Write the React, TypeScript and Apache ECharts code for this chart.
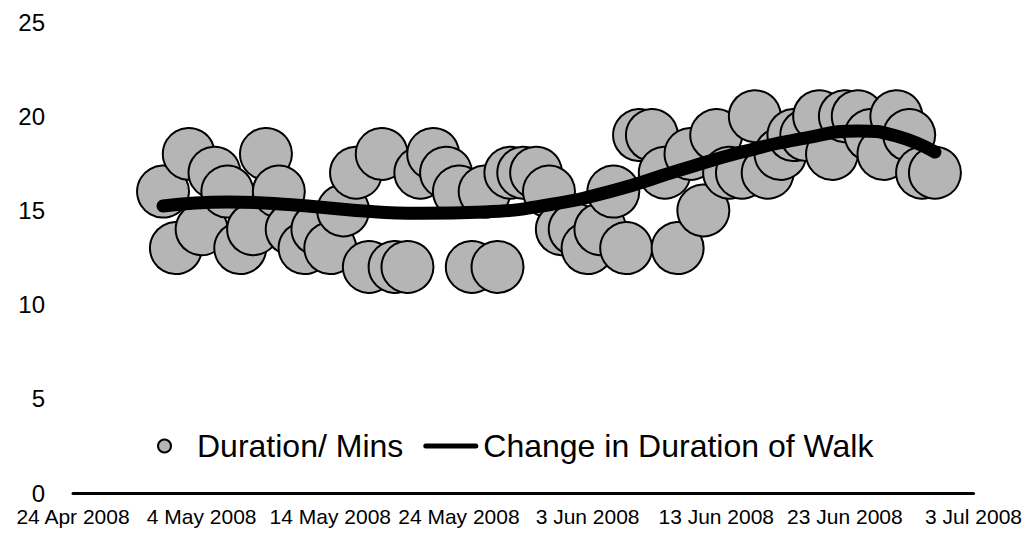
import React, { useEffect, useRef } from "react";
import * as echarts from "echarts";

const AXIS_START = "2008-04-24";
const AXIS_END = "2008-07-03";
const TICK_DAYS = 10;
const Y_TICKS = [0, 5, 10, 15, 20, 25];
const MONTHS = ["Jan", "Feb", "Mar", "Apr", "May", "Jun", "Jul", "Aug", "Sep", "Oct", "Nov", "Dec"];

const walkDates = [
  "2008-05-01", "2008-05-02", "2008-05-03", "2008-05-04", "2008-05-05", "2008-05-06", "2008-05-07",
  "2008-05-08", "2008-05-09", "2008-05-10", "2008-05-11", "2008-05-12", "2008-05-13", "2008-05-14",
  "2008-05-15", "2008-05-16", "2008-05-17", "2008-05-18", "2008-05-19", "2008-05-20", "2008-05-21",
  "2008-05-22", "2008-05-23", "2008-05-24", "2008-05-25", "2008-05-26", "2008-05-27", "2008-05-28",
  "2008-05-29", "2008-05-30", "2008-05-31", "2008-06-01", "2008-06-02", "2008-06-03", "2008-06-04",
  "2008-06-05", "2008-06-06", "2008-06-07", "2008-06-08", "2008-06-09", "2008-06-10", "2008-06-11",
  "2008-06-12", "2008-06-13", "2008-06-14", "2008-06-15", "2008-06-16", "2008-06-17", "2008-06-18",
  "2008-06-19", "2008-06-20", "2008-06-21", "2008-06-22", "2008-06-23", "2008-06-24", "2008-06-25",
  "2008-06-26", "2008-06-27", "2008-06-28", "2008-06-29", "2008-06-30",
];
const durationMins = [
  16, 13, 18, 14, 17, 16, 13,
  14, 18, 16, 14, 13, 14, 13,
  15, 17, 12, 18, 12, 12, 17,
  18, 17, 16, 12, 16, 12, 17,
  17, 17, 16, 14, 14, 13, 14,
  16, 13, 19, 19, 17, 13, 18,
  15, 19, 17, 17, 20, 17, 18,
  19, 19, 20, 18, 20, 20, 19,
  18, 20, 19, 17, 17,
];

const trendDates = [
  "2008-05-01", "2008-05-06", "2008-05-11", "2008-05-16", "2008-05-21", "2008-05-26",
  "2008-05-31", "2008-06-05", "2008-06-10", "2008-06-15", "2008-06-20", "2008-06-24",
  "2008-06-27", "2008-06-30",
];
const trendValues = [15.23, 15.45, 15.3, 15.0, 14.85, 14.92, 15.3, 16.05, 17.1, 18.1, 18.85, 19.22, 18.95, 18.1];

const DAY_MS = 86400000;
const baseMs = Date.parse(AXIS_START + "T00:00:00Z");
const toDay = (s: string) => (Date.parse(s + "T00:00:00Z") - baseMs) / DAY_MS;
const fmtDay = (v: number) => {
  const d = new Date(baseMs + Math.round(v) * DAY_MS);
  return `${d.getUTCDate()} ${MONTHS[d.getUTCMonth()]} ${d.getUTCFullYear()}`;
};

const FONT = "'Liberation Sans', Arial, Helvetica, sans-serif";

export default function App() {
  const ref = useRef<HTMLDivElement>(null);
  useEffect(() => {
    document.body.style.margin = "0";
    const chart = echarts.init(ref.current!, null, { renderer: "svg" });
    const scatterData = walkDates.map((d, i) => [toDay(d), durationMins[i]]);
    const lineData = trendDates.map((d, i) => [toDay(d), trendValues[i]]);
    chart.setOption({
      animation: false,
      backgroundColor: "#ffffff",
      textStyle: { fontFamily: FONT },
      grid: { left: 73, right: 48, top: 22, bottom: 49, containLabel: false },
      legend: {
        left: 152,
        top: 425,
        padding: 5,
        itemWidth: 55,
        itemHeight: 13,
        itemGap: 20,
        textStyle: { fontSize: 32, color: "#000", fontFamily: FONT },
        data: [
          { name: "Duration/ Mins" },
          {
            name: "Change in Duration of Walk",
            icon: "path://M2.5,0 L52.5,0 A2.5,2.5 0 0 1 52.5,5 L2.5,5 A2.5,2.5 0 0 1 2.5,0 Z",
            itemStyle: { color: "#000" },
          },
        ],
      },
      xAxis: {
        type: "value",
        min: 0,
        max: toDay(AXIS_END),
        interval: TICK_DAYS,
        axisLine: { show: true, lineStyle: { color: "#000", width: 3 } },
        axisTick: { show: false },
        splitLine: { show: false },
        axisLabel: {
          show: true,
          color: "#000",
          fontSize: 21,
          lineHeight: 20,
          margin: 13,
          fontFamily: FONT,
          showMinLabel: true,
          showMaxLabel: true,
          hideOverlap: false,
          formatter: (v: number) => fmtDay(v),
        },
      },
      yAxis: {
        type: "value",
        min: Y_TICKS[0],
        max: Y_TICKS[Y_TICKS.length - 1],
        interval: Y_TICKS[1] - Y_TICKS[0],
        axisLine: { show: false },
        axisTick: { show: false },
        splitLine: { show: false },
        axisLabel: { color: "#000", fontSize: 24, lineHeight: 19, margin: 28, fontFamily: FONT },
      },
      series: [
        {
          name: "Duration/ Mins",
          type: "scatter",
          symbol: "circle",
          symbolSize: 52,
          data: scatterData,
          itemStyle: { color: "#b5b5b5", borderColor: "#000", borderWidth: 2, opacity: 1 },
          z: 2,
        },
        {
          name: "Change in Duration of Walk",
          type: "line",
          data: lineData,
          smooth: true,
          showSymbol: false,
          symbol: "none",
          lineStyle: { color: "#000", width: 13, cap: "round", join: "round" },
          itemStyle: { color: "#000" },
          z: 3,
        },
      ],
    });
    return () => chart.dispose();
  }, []);
  return <div ref={ref} style={{ width: 1025, height: 542 }} />;
}
